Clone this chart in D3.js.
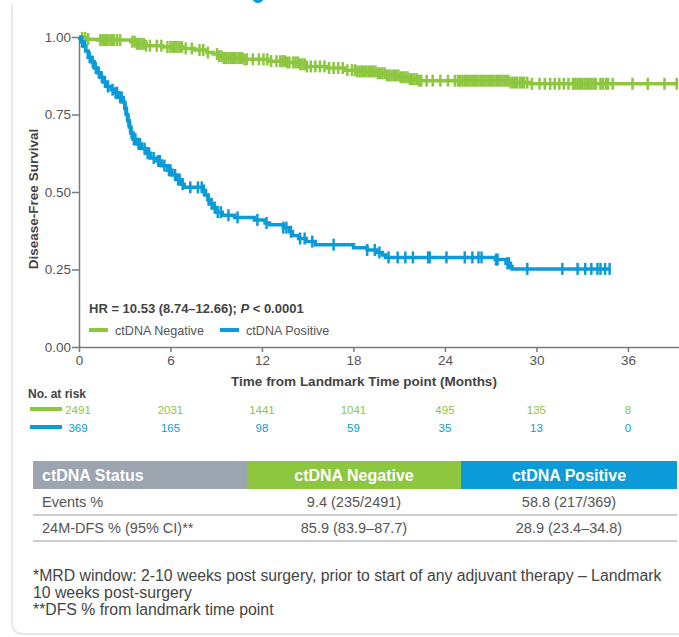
<!DOCTYPE html>
<html>
<head>
<meta charset="utf-8">
<script src="https://cdn.jsdelivr.net/npm/d3@7"></script>
<style>
  html, body { margin: 0; padding: 0; background: #fff; }
  svg { display: block; font-family: "Liberation Sans", Arial, sans-serif; }
</style>
</head>
<body>
<svg id="chart" width="679" height="637"></svg>
<script>
// ---- Kaplan-Meier data (months, survival proportion) ----
const negEventTimes = [0.2, 0.5, 1.2, 3.4, 3.8, 4.4, 5.5, 6.8, 7.6, 8.4, 8.8, 9.1, 9.5, 10.8, 12.4, 13.6, 14.5, 14.9, 16.3, 17.4, 18.2, 19.6, 20.2, 21.0, 21.6, 22.2, 28.3, 29.6];
const negSurvival   = [0.997, 0.993, 0.99, 0.985, 0.978, 0.972, 0.968, 0.963, 0.958, 0.95, 0.945, 0.938, 0.932, 0.928, 0.922, 0.918, 0.912, 0.905, 0.9, 0.893, 0.889, 0.883, 0.876, 0.87, 0.864, 0.859, 0.853, 0.849];
const negLastFollowUp = 39.3;
const negCensored = [0.2, 0.4, 0.6, 1.4, 1.55, 1.7, 1.85, 2.0, 2.15, 2.3, 2.5, 2.7, 3.5, 3.65, 3.8, 3.95, 4.1, 4.25, 4.4, 4.65, 5.1, 5.4, 5.8,
  6.0, 6.15, 6.3, 6.45, 6.6, 6.75, 7.0, 7.4, 7.9, 8.15, 8.45, 9.05, 9.2, 9.35, 9.5, 9.65, 9.8, 9.95, 10.1, 10.25, 10.4, 10.55, 10.7, 10.85, 11.0,
  11.4, 11.8, 12.1, 12.35, 12.6, 12.95, 13.2, 13.35, 13.5, 13.65, 13.8, 14.05, 14.2, 14.35, 14.5, 14.65, 14.8, 14.95,
  15.2, 15.5, 15.8, 16.1, 16.4, 16.7, 17.0, 17.3, 17.6, 17.9, 18.1, 18.25, 18.4, 18.55, 18.7, 18.85, 19.0, 19.15, 19.3, 19.45, 19.6, 19.75, 19.9,
  20.05, 20.2, 20.35, 20.5, 20.65, 20.8, 20.95, 21.1, 21.25, 21.4, 21.55, 21.7, 21.85, 22.0, 22.15, 22.3, 22.45,
  22.8, 23.2, 23.7, 24.2, 24.65, 24.85, 25.0, 25.15, 25.3, 25.45, 25.6, 25.75, 25.9, 26.05, 26.2, 26.35, 26.5, 26.65, 26.8, 26.95,
  27.1, 27.25, 27.4, 27.55, 27.7, 27.85, 28.0, 28.15, 28.3, 28.45, 28.6, 28.72, 28.9, 29.05, 29.2, 29.4, 29.7, 30.2, 30.55,
  30.9, 31.2, 31.5, 31.8, 32.1, 32.4, 32.55, 32.7, 32.85, 33.0, 33.15, 33.3, 33.45, 33.6, 33.75, 33.9, 34.2, 34.35, 34.55, 34.7,
  35.0, 36.3, 37.3, 38.4, 39.2];

const posEventTimes = [0.05, 0.15, 0.3, 0.45, 0.6, 0.8, 1.0, 1.2, 1.4, 1.6, 1.85, 2.1, 2.35, 2.6, 2.9, 3.0, 3.1, 3.2, 3.3, 3.4, 3.55, 3.8, 4.1, 4.4, 4.7, 5.0, 5.4, 5.8, 6.1, 6.4, 6.7, 6.9,
  8.1, 8.3, 8.45, 8.6, 8.8, 9.0, 9.4, 10.2, 11.5, 12.2, 12.5, 13.4, 13.8, 14.0, 14.4, 14.9, 15.5, 18.0, 18.9, 19.5, 19.9, 20.1, 27.3, 28.0, 28.3, 28.4];
const posSurvival   = [0.995, 0.985, 0.97, 0.955, 0.935, 0.92, 0.9, 0.885, 0.87, 0.855, 0.84, 0.83, 0.82, 0.805, 0.79, 0.77, 0.75, 0.73, 0.71, 0.69, 0.67, 0.655, 0.64, 0.625, 0.61, 0.6, 0.585, 0.57, 0.555, 0.54, 0.525, 0.515,
  0.505, 0.49, 0.475, 0.462, 0.45, 0.435, 0.425, 0.418, 0.41, 0.4, 0.394, 0.385, 0.372, 0.36, 0.35, 0.34, 0.33, 0.32, 0.313, 0.305, 0.297, 0.289, 0.282, 0.27, 0.26, 0.252];
const posLastFollowUp = 34.8;
const posCensored = [0.2, 0.4, 0.7, 0.9, 1.1, 1.3, 1.5, 1.7, 1.9, 2.2, 2.4, 2.5, 2.7, 2.8, 3.05, 3.15, 3.25, 3.35, 3.45, 3.6, 3.7, 3.9, 4.0, 4.3, 4.5, 4.6, 4.9,
  5.2, 5.3, 5.6, 5.9, 6.0, 6.3, 6.5, 6.6, 6.8, 7.3, 7.8, 8.05, 8.2, 8.5, 8.7, 8.9, 9.1, 9.3, 9.8, 10.4, 11.7, 12.3, 13.4, 13.6, 13.9, 14.5, 14.8, 15.3, 16.7,
  18.9, 19.4, 19.7, 20.3, 20.9, 21.4, 21.9, 22.9, 23.0, 24.1, 25.3, 25.8, 26.2, 26.4, 27.35, 27.45, 28.1, 28.2, 29.4, 31.7, 32.7, 33.2, 33.6, 34.0, 34.2, 34.5, 34.8];

// ---- Axes ticks ----
const yTicks = [0, 0.25, 0.5, 0.75, 1.0];
const xTicks = [0, 6, 12, 18, 24, 30, 36];

// ---- Numbers at risk ----
const riskTimes = [0, 6, 12, 18, 24, 30, 36];
const negAtRisk = [2491, 2031, 1441, 1041, 495, 135, 8];
const posAtRisk = [369, 165, 98, 59, 35, 13, 0];

// ---- Summary table ----
const tableHeader = ["ctDNA Status", "ctDNA Negative", "ctDNA Positive"];
const tableRows = [
  ["Events %", "9.4 (235/2491)", "58.8 (217/369)"],
  ["24M-DFS % (95% CI)**", "85.9 (83.9\u201387.7)", "28.9 (23.4\u201334.8)"]
];
const footnotes = [
  "*MRD window: 2-10 weeks post surgery, prior to start of any adjuvant therapy \u2013 Landmark",
  "10 weeks post-surgery",
  "**DFS % from landmark time point"
];

const GREEN = "#8dc63f";
const BLUE = "#0a9bd8";
const GREY_HEAD = "#9ba4af";

const svg = d3.select("#chart");

// card outline
svg.append("path")
  .attr("d", "M12,4 V622 Q12,634 24,634 H679")
  .attr("fill", "none").attr("stroke", "#e4e9ef").attr("stroke-width", 2);

// partial marker at the top edge
svg.append("circle").attr("cx", 258).attr("cy", -3).attr("r", 6).attr("fill", BLUE);

const x = d3.scaleLinear().domain([0, 39.35]).range([79, 679]);
const y = d3.scaleLinear().domain([0, 1]).range([347, 37]);

// axes
const yAxis = svg.append("g").attr("transform", "translate(79,0)")
  .call(d3.axisLeft(y).tickValues(yTicks).tickFormat(d3.format(".2f")).tickSize(7).tickSizeOuter(0).tickPadding(1));
const xAxis = svg.append("g").attr("transform", "translate(0,347)")
  .call(d3.axisBottom(x).tickValues(xTicks).tickSize(5).tickSizeOuter(0).tickPadding(3));
[yAxis, xAxis].forEach(g => {
  g.select(".domain").attr("stroke", "#7a7a7a").attr("stroke-width", 1.5);
  g.selectAll(".tick line").attr("stroke", "#7a7a7a").attr("stroke-width", 1.5);
  g.selectAll(".tick text").attr("fill", "#555").style("font-size", "13.5px").style("font-family", "'Liberation Sans', Arial, sans-serif");
});

// axis titles
svg.append("text")
  .attr("transform", "translate(38,199) rotate(-90)")
  .attr("text-anchor", "middle").attr("fill", "#444")
  .style("font-size", "13.5px").style("font-weight", "bold")
  .text("Disease-Free Survival");
svg.append("text")
  .attr("x", 364).attr("y", 386)
  .attr("text-anchor", "middle").attr("fill", "#444")
  .style("font-size", "13.5px").style("font-weight", "bold")
  .text("Time from Landmark Time point (Months)");

// KM curves
function stepPoints(times, surv, lastT) {
  const pts = [[0, 1]];
  times.forEach((t, i) => pts.push([t, surv[i]]));
  pts.push([lastT, surv[surv.length - 1]]);
  return pts;
}
function survAt(times, surv, t) {
  let s = 1;
  for (let i = 0; i < times.length; i++) { if (times[i] <= t) s = surv[i]; else break; }
  return s;
}
const line = d3.line().x(d => x(d[0])).y(d => y(d[1])).curve(d3.curveStepAfter);

function drawCurve(times, surv, lastT, censored, color) {
  const g = svg.append("g");
  g.append("path")
    .attr("d", line(stepPoints(times, surv, lastT)))
    .attr("fill", "none").attr("stroke", color).attr("stroke-width", 3.5);
  g.selectAll("line.c").data(censored).join("line")
    .attr("x1", d => x(d)).attr("x2", d => x(d))
    .attr("y1", d => y(survAt(times, surv, d)) - 6)
    .attr("y2", d => y(survAt(times, surv, d)) + 6)
    .attr("stroke", color).attr("stroke-width", 2.5);
}
drawCurve(negEventTimes, negSurvival, negLastFollowUp, negCensored, GREEN);
drawCurve(posEventTimes, posSurvival, posLastFollowUp, posCensored, BLUE);

// HR annotation
const hr = svg.append("text").attr("x", 89).attr("y", 313).attr("fill", "#444")
  .style("font-size", "13px").style("font-weight", "bold");
hr.append("tspan").text("HR = 10.53 (8.74\u201312.66); ");
hr.append("tspan").style("font-style", "italic").text("P");
hr.append("tspan").text(" < 0.0001");

// legend
const legend = [{label: "ctDNA Negative", color: GREEN, x0: 89}, {label: "ctDNA Positive", color: BLUE, x0: 220}];
legend.forEach(l => {
  svg.append("line").attr("x1", l.x0).attr("x2", l.x0 + 19).attr("y1", 330).attr("y2", 330)
    .attr("stroke", l.color).attr("stroke-width", 4);
  svg.append("text").attr("x", l.x0 + 26).attr("y", 335).attr("fill", "#555")
    .style("font-size", "12.6px").text(l.label);
});

// numbers at risk
svg.append("text").attr("x", 28).attr("y", 398).attr("fill", "#444")
  .style("font-size", "12px").style("font-weight", "bold").text("No. at risk");
[{vals: negAtRisk, color: GREEN, yy: 409}, {vals: posAtRisk, color: BLUE, yy: 427}].forEach(r => {
  svg.append("line").attr("x1", 30).attr("x2", 62).attr("y1", r.yy).attr("y2", r.yy)
    .attr("stroke", r.color).attr("stroke-width", 4);
  svg.selectAll(null).data(riskTimes).join("text")
    .attr("x", (d, i) => i === 0 ? 78 : x(d)).attr("y", r.yy + 4.5)
    .attr("text-anchor", "middle").attr("fill", r.color)
    .style("font-size", "11.5px")
    .text((d, i) => r.vals[i]);
});

// summary table
const colX = [33, 247, 461, 677];
const headY = 461, headH = 28, rowH = 26;
const headFill = [GREY_HEAD, GREEN, BLUE];
tableHeader.forEach((h, i) => {
  svg.append("rect").attr("x", colX[i]).attr("y", headY).attr("width", colX[i + 1] - colX[i]).attr("height", headH)
    .attr("fill", headFill[i]);
  svg.append("text")
    .attr("x", i === 0 ? 42 : (colX[i] + colX[i + 1]) / 2)
    .attr("y", headY + 19.5)
    .attr("text-anchor", i === 0 ? "start" : "middle")
    .attr("fill", "#fff").style("font-size", "16px").style("font-weight", "bold")
    .text(h);
});
tableRows.forEach((row, r) => {
  const top = headY + headH + r * rowH;
  row.forEach((cell, i) => {
    svg.append("text")
      .attr("x", i === 0 ? 42 : (colX[i] + colX[i + 1]) / 2)
      .attr("y", top + 18)
      .attr("text-anchor", i === 0 ? "start" : "middle")
      .attr("fill", "#555").style("font-size", "14.5px")
      .text(cell);
  });
  svg.append("line").attr("x1", colX[0]).attr("x2", colX[3]).attr("y1", top + rowH).attr("y2", top + rowH)
    .attr("stroke", "#b9bdc2").attr("stroke-width", 1.5);
});

// footnotes
footnotes.forEach((f, i) => {
  svg.append("text").attr("x", 33).attr("y", 581 + i * 17).attr("fill", "#444")
    .style("font-size", "15.8px").text(f);
});
</script>
</body>
</html>
